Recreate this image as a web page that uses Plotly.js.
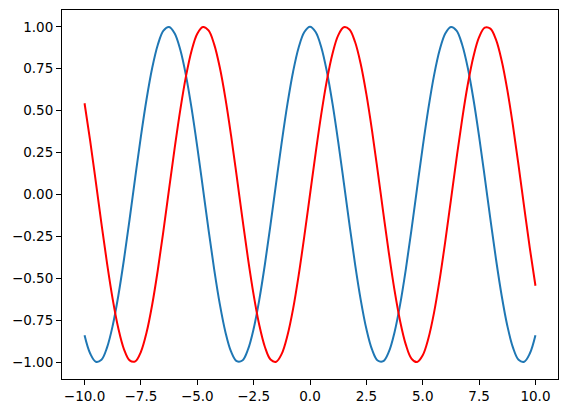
<!DOCTYPE html>
<html>
<head>
<meta charset="utf-8">
<script src="https://cdn.plot.ly/plotly-3.0.1.min.js"></script>
<style>
	html, body {margin: 0; padding: 0; background: #fff;}
	#myDiv {width: 568px; height: 413px;}
</style>
</head>
<body>
<div id="myDiv"></div>
<script>
// x positions, read every 0.25 along the axis
var xVals = [-10, -9.75, -9.5, -9.25, -9, -8.75, -8.5, -8.25, -8, -7.75, -7.5, -7.25, -7, -6.75, -6.5, -6.25,
	-6, -5.75, -5.5, -5.25, -5, -4.75, -4.5, -4.25, -4, -3.75, -3.5, -3.25, -3, -2.75, -2.5, -2.25,
	-2, -1.75, -1.5, -1.25, -1, -0.75, -0.5, -0.25, 0, 0.25, 0.5, 0.75, 1, 1.25, 1.5, 1.75,
	2, 2.25, 2.5, 2.75, 3, 3.25, 3.5, 3.75, 4, 4.25, 4.5, 4.75, 5, 5.25, 5.5, 5.75,
	6, 6.25, 6.5, 6.75, 7, 7.25, 7.5, 7.75, 8, 8.25, 8.5, 8.75, 9, 9.25, 9.5, 9.75, 10];

// blue curve
var blueVals = [-0.839, -0.948, -0.997, -0.985, -0.911, -0.781, -0.602, -0.386, -0.146, 0.104, 0.347, 0.568, 0.754, 0.893, 0.977, 0.999,
	0.960, 0.861, 0.709, 0.512, 0.284, 0.038, -0.211, -0.446, -0.654, -0.821, -0.937, -0.994, -0.990, -0.924, -0.801, -0.628,
	-0.416, -0.178, 0.071, 0.315, 0.540, 0.732, 0.878, 0.969, 1.000, 0.969, 0.878, 0.732, 0.540, 0.315, 0.071, -0.178,
	-0.416, -0.628, -0.801, -0.924, -0.990, -0.994, -0.937, -0.821, -0.654, -0.446, -0.211, 0.038, 0.284, 0.512, 0.709, 0.861,
	0.960, 0.999, 0.977, 0.893, 0.754, 0.568, 0.347, 0.104, -0.146, -0.386, -0.602, -0.781, -0.911, -0.985, -0.997, -0.948, -0.839];

// red curve
var redVals = [0.544, 0.320, 0.075, -0.174, -0.412, -0.625, -0.799, -0.923, -0.989, -0.995, -0.938, -0.823, -0.657, -0.450, -0.215, 0.033,
	0.279, 0.508, 0.706, 0.859, 0.959, 0.999, 0.978, 0.895, 0.757, 0.572, 0.351, 0.108, -0.141, -0.382, -0.598, -0.778,
	-0.909, -0.984, -0.997, -0.949, -0.841, -0.682, -0.479, -0.247, 0.000, 0.247, 0.479, 0.682, 0.841, 0.949, 0.997, 0.984,
	0.909, 0.778, 0.598, 0.382, 0.141, -0.108, -0.351, -0.572, -0.757, -0.895, -0.978, -0.999, -0.959, -0.859, -0.706, -0.508,
	-0.279, -0.033, 0.215, 0.450, 0.657, 0.823, 0.938, 0.995, 0.989, 0.923, 0.799, 0.625, 0.412, 0.174, -0.075, -0.320, -0.544];

var xTicks = [-10, -7.5, -5, -2.5, 0, 2.5, 5, 7.5, 10];
var yTicks = [-1, -0.75, -0.5, -0.25, 0, 0.25, 0.5, 0.75, 1];

var trace1 = {
	x: xVals,
	y: blueVals,
	type: 'scatter',
	mode: 'lines',
	line: {color: '#1f77b4', width: 2, shape: 'spline', smoothing: 1}
};
var trace2 = {
	x: xVals,
	y: redVals,
	type: 'scatter',
	mode: 'lines',
	line: {color: '#ff0000', width: 2, shape: 'spline', smoothing: 1}
};

var axisStyle = {
	showgrid: false,
	zeroline: false,
	showline: true,
	mirror: true,
	linecolor: '#000',
	linewidth: 1,
	ticks: 'outside',
	ticklen: 5,
	tickwidth: 1,
	tickcolor: '#000',
	tickfont: {family: 'DejaVu Sans', size: 13.5, color: '#000'}
};

var layout = {
	width: 568,
	height: 413,
	showlegend: false,
	paper_bgcolor: '#fff',
	plot_bgcolor: '#fff',
	margin: {l: 62, r: 10, t: 10, b: 34, pad: 0},
	xaxis: Object.assign({}, axisStyle, {range: [-11, 11], tickvals: xTicks, tickformat: '.1f'}),
	yaxis: Object.assign({}, axisStyle, {range: [-1.1, 1.1], tickvals: yTicks, tickformat: '.2f'})
};

Plotly.newPlot('myDiv', [trace1, trace2], layout, {displayModeBar: false, responsive: false});
</script>
</body>
</html>
